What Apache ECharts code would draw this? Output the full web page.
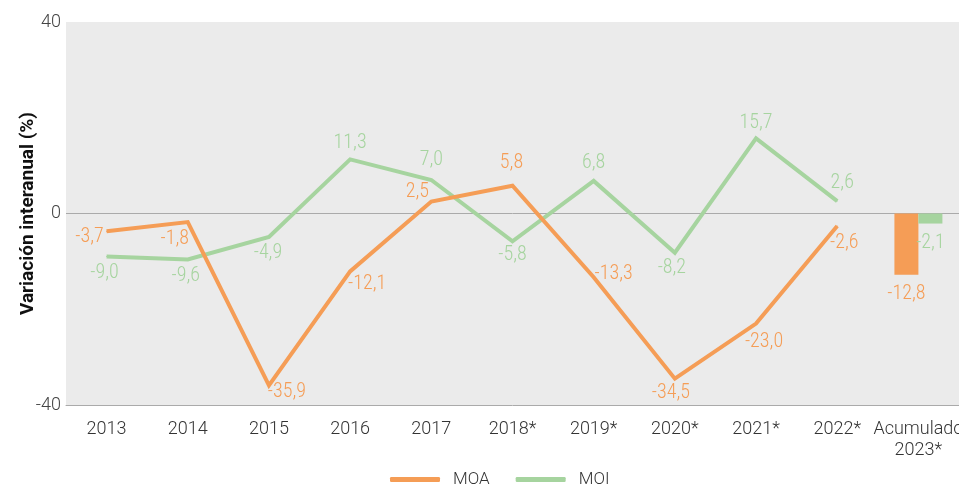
<!DOCTYPE html>
<html>
<head>
<meta charset="utf-8">
<script src="https://cdn.jsdelivr.net/npm/echarts@6/dist/echarts.min.js"></script>
<style>
  html, body { margin: 0; padding: 0; background: #fff; }
  #chart { width: 959px; height: 486px; }
</style>
</head>
<body>
<div id="chart"></div>
<script>
const categories = ['2013', '2014', '2015', '2016', '2017', '2018*', '2019*', '2020*', '2021*', '2022*', 'Acumulado\n2023*']
const moa = [-3.7, -1.8, -35.9, -12.1, 2.5, 5.8, -13.3, -34.5, -23.0, -2.6, '-']
const moi = [-9.0, -9.6, -4.9, 11.3, 7.0, -5.8, 6.8, -8.2, 15.7, 2.6, '-']
const moaAcum = ['-', '-', '-', '-', '-', '-', '-', '-', '-', '-', -12.8]
const moiAcum = ['-', '-', '-', '-', '-', '-', '-', '-', '-', '-', -2.1]
const yTicks = { min: -40, max: 40, interval: 40 }

// label placement (px offset from each point)
const moaOffsets = [[-17, 6], [-13, 17], [18, 7], [17, 13], [-14, -10], [-1, -23], [20, -3], [-4, 14], [8, 18], [7, 17]]
const moiOffsets = [[-2, 16], [-2, 17], [-1, 16], [0, -16], [0, -20], [0, 14], [0, -18], [-3, 15], [0, -15], [5, -18]]

const ORANGE = '#f59d56'
const GREEN = '#a6d49f'
const labelFont = '"Roboto Condensed", "Liberation Sans", sans-serif'
const fmt = (p) => Number(p.value).toFixed(1).replace('.', ',')

const withLabels = (vals, offsets) => vals.map((v, i) =>
  v === '-' ? '-' : { value: v, label: { offset: offsets[i] } })

const lineSeries = (name, vals, offsets, color) => ({
  name,
  type: 'line',
  data: withLabels(vals, offsets),
  symbol: 'circle',
  symbolSize: 1,
  lineStyle: { color, width: 4, join: 'miter' },
  itemStyle: { color },
  label: {
    show: true,
    position: 'inside',
    formatter: fmt,
    color,
    fontFamily: labelFont,
    fontWeight: 300,
    fontSize: 20
  },
  emphasis: { disabled: true }
})

const barSeries = (name, vals, color) => ({
  name,
  type: 'bar',
  data: vals,
  barWidth: 24,
  barGap: '0%',
  itemStyle: { color },
  label: {
    show: true,
    position: 'bottom',
    distance: 9,
    formatter: fmt,
    color,
    fontFamily: labelFont,
    fontWeight: 300,
    fontSize: 20
  },
  emphasis: { disabled: true }
})

const option = {
  animation: false,
  textStyle: { fontFamily: 'Roboto, "Liberation Sans", sans-serif' },
  grid: {
    left: 66,
    right: 0,
    top: 22,
    bottom: 81,
    outerBoundsMode: 'none',
    show: true,
    backgroundColor: '#ebebeb',
    borderWidth: 0
  },
  legend: {
    data: ['MOA', 'MOI'],
    top: 466,
    left: 385,
    icon: 'roundRect',
    itemWidth: 50,
    itemHeight: 5,
    itemGap: 26,
    textStyle: { fontSize: 17, fontWeight: 300, color: '#333', padding: [0, 0, 0, 8] }
  },
  xAxis: {
    type: 'category',
    data: categories,
    axisTick: { show: false },
    axisLine: { onZero: false, lineStyle: { color: '#aaa', width: 1 } },
    axisLabel: { color: '#333', fontSize: 18, fontWeight: 300, margin: 14, lineHeight: 21, interval: 0 }
  },
  yAxis: {
    type: 'value',
    min: yTicks.min,
    max: yTicks.max,
    interval: yTicks.interval,
    name: 'Variación interanual (%)',
    nameLocation: 'middle',
    nameGap: 28,
    nameMoveOverlap: false,
    nameTextStyle: { fontSize: 19, fontWeight: 'bold', color: '#111' },
    axisLine: { show: false },
    axisTick: { show: false },
    axisLabel: { color: '#444', fontSize: 18, fontWeight: 300, margin: 5 },
    splitLine: { show: true, showMinLine: false, showMaxLine: false, lineStyle: { color: '#aaa', width: 1 } }
  },
  series: [
    lineSeries('MOI', moi, moiOffsets, GREEN),
    lineSeries('MOA', moa, moaOffsets, ORANGE),
    barSeries('MOA', moaAcum, ORANGE),
    barSeries('MOI', moiAcum, GREEN)
  ]
}

const chart = echarts.init(document.getElementById('chart'))
chart.setOption(option)
</script>
</body>
</html>
